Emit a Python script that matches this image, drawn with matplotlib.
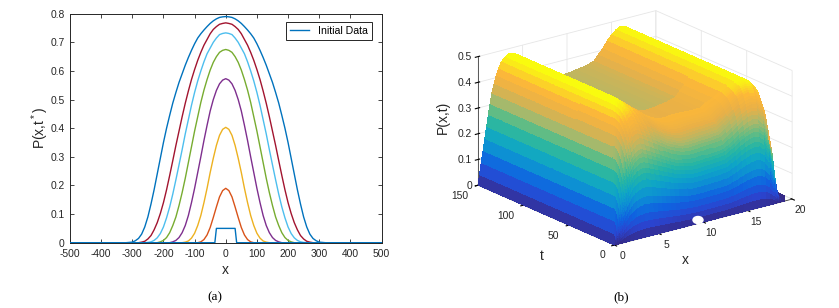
import numpy as np
import matplotlib
matplotlib.use('Agg')
import matplotlib.pyplot as plt
from matplotlib.colors import LinearSegmentedColormap
from matplotlib.patches import Ellipse
from mpl_toolkits.mplot3d import proj3d

plt.rcParams['font.family'] = ['Liberation Sans', 'DejaVu Sans']
plt.rcParams['mathtext.fontset'] = 'custom'
plt.rcParams['mathtext.rm'] = 'Liberation Sans'
plt.rcParams['axes.unicode_minus'] = False

# ---- panel (a) data: half profiles from x=0 in steps of 10, mirrored about x=0
step = 10
initial_x = [-500, -35, -30, 30, 35, 500]
initial_y = [0, 0, 0.05, 0.05, 0, 0]
curve_orange = [.19, .182, .16, .125, .088, .053, .027, .011, .003, 0]
curve_yellow = [.403, .396, .375, .34, .295, .245, .19, .14, .095, .06, .033, .016, .006, .002, 0]
curve_purple = [.573, .568, .555, .532, .50, .46, .41, .357, .30, .245, .19, .14, .095, .06, .035, .018, .008, .003, 0]
curve_green = [.675, .672, .665, .65, .63, .603, .57, .533, .49, .44, .39, .335, .28, .225, .175, .13, .09, .06, .035,
               .018, .008, .003, 0]
curve_cyan = [.733, .731, .727, .715, .70, .68, .66, .632, .60, .565, .525, .48, .43, .38, .325, .272, .22, .17, .125,
              .087, .055, .032, .017, .008, .003, .001, 0]
curve_red = [.768, .766, .763, .755, .745, .73, .71, .69, .665, .637, .605, .57, .53, .487, .44, .39, .34, .287, .235,
             .185, .14, .102, .07, .045, .025, .013, .005, .002, 0]
curve_blue = [.79, .789, .787, .782, .775, .766, .755, .743, .73, .715, .695, .672, .647, .62, .59, .56, .525, .488, .445,
              .40, .35, .295, .24, .185, .135, .09, .055, .03, .015, .007, .002, .001, 0]
x_ticks = [-500, -400, -300, -200, -100, 0, 100, 200, 300, 400, 500]
y_ticks = [0, .1, .2, .3, .4, .5, .6, .7, .8]

# ---- panel (b) data
x_grid = [0, .15, .35, .55, .75, .95, 1.15, 1.35, 1.55, 1.8, 2.05, 2.3, 2.6, 3, 3.5, 4, 4.5, 5, 5.5, 6, 6.5, 7, 7.5, 8,
          8.5, 9, 9.5, 10, 10.5, 11, 11.5, 12, 12.5, 13, 13.5, 14, 14.5, 15, 15.5, 16, 16.5, 17, 17.5, 18,
          18.25, 18.5, 18.75, 19, 19.5, 20]
profile = [0, .04, .085, .13, .175, .22, .265, .305, .345, .38, .41, .435, .455, .47, .48, .478, .465, .45, .435, .42,
           .405, .39, .375, .365, .355, .348, .345, .345, .347, .35, .352, .355, .36, .365, .385, .405, .43, .45, .465,
           .475, .47, .44, .37, .24, .12, .04, .015, .005, 0, 0]
rise_time = [0, 2, 4, 6, 8, 10.5, 12.5, 15, 17, 20, 23, 25, 29, 33, 39, 44, 46, 45, 44, 43, 42, 42, 41, 41, 41, 41, 41,
             41, 41, 40, 39, 37, 35, 33, 31, 28, 25, 22, 20, 17, 15, 12, 10, 8, 6, 5, 4, 4, 3, 2]
wall_fraction = [0, .01, .02, .03, .045, .06, .08, .10, .12, .14, .16, .18, .20, .22, .25, .28, .31, .34, .37, .40, .44,
                 .48, .52, .56, .60, .65, .70, .75, .80, .85, .90, .95, 1]
wall_height = [0, .07, .13, .19, .26, .32, .39, .45, .50, .54, .58, .62, .65, .68, .72, .755, .785, .81, .835, .855, .88,
               .90, .92, .935, .95, .965, .975, .985, .99, .995, .998, 1, 1]
plateau_t = [60, 75, 90, 105, 120, 135, 150]
wall_top_level = .88
colour_stops = ['#352a87', '#2a45d0', '#0f62e0', '#0d8ad6', '#0ea5c6', '#25b5a5', '#60bc85', '#b0b868',
                '#e8b048', '#fdb838', '#f9fb0e']
x_tick_vals = [0, 5, 10, 15, 20]
t_tick_vals = [0, 50, 100, 150]
z_tick_vals = [0, .1, .2, .3, .4, .5]
z_tick_text = ['0', '0.1', '0.2', '0.3', '0.4', '0.5']

fig = plt.figure(figsize=(8.39, 3.08), dpi=100, facecolor='white')

# ---- left panel
ax = fig.add_axes([70/839, 1-242.7/308, 311.5/839, 229/308])
ax.plot(initial_x, initial_y, color='#0072BD', lw=1.0, label='Initial Data', zorder=9)
for ys, c in [(curve_orange, '#D95319'), (curve_yellow, '#EDB120'), (curve_purple, '#7E2F8E'),
              (curve_green, '#77AC30'), (curve_cyan, '#4DBEEE'), (curve_red, '#A2142F'), (curve_blue, '#0072BD')]:
    xs = step * np.arange(len(ys))
    ax.plot(np.r_[-xs[::-1], xs[1:]], np.r_[ys[::-1], ys[1:]], color=c, lw=1.0)
ax.set_xlim(-500, 500)
ax.set_ylim(0, .8)
ax.set_xticks(x_ticks)
ax.set_yticks(y_ticks)
ax.set_yticklabels(['0', '0.1', '0.2', '0.3', '0.4', '0.5', '0.6', '0.7', '0.8'])
ax.tick_params(direction='in', top=True, right=True, length=3, width=.6, labelsize=7.4, colors='#262626', pad=3)
ax.tick_params(axis='x', pad=4.5)
ax.tick_params(axis='y', pad=4)
for s in ax.spines.values():
    s.set_linewidth(.7)
    s.set_color('#262626')
ax.set_xlabel('x', fontsize=10, color='#262626', labelpad=3)
ax.set_ylabel(r'P(x,t$^*$)', fontsize=10, color='#262626', labelpad=-.5)
leg = ax.legend(loc='upper right', bbox_to_anchor=(.9695, .964), fontsize=7.6, fancybox=False, framealpha=1,
                edgecolor='#262626', borderaxespad=0, handlelength=1.8, borderpad=.4)
leg.get_frame().set_linewidth(.7)

# ---- right panel
cmap = LinearSegmentedColormap.from_list('wall', colour_stops)
ax3 = fig.add_axes([451/839, 22/308, 360/839, 1], projection='3d')
ax3.set_proj_type('ortho')
ax3.view_init(elev=19.7, azim=-127.5)
ax3.set_box_aspect((1, 1, .61), zoom=1.087)
xg = np.array(x_grid)
pr = np.array(profile)
h = np.array(wall_height)
rows_plateau = np.outer(np.array(plateau_t, float), np.ones_like(xg))
T = np.vstack([np.outer(np.array(wall_fraction), np.array(rise_time)), rows_plateau])
P = np.vstack([np.outer(h, pr), np.tile(pr, (len(plateau_t), 1))])
X = np.tile(xg, (T.shape[0], 1))
level = pr / .475
# along the crest of the front wall the colour reaches orange even over the valley
lift = np.where((xg > 3) & (level > .5), np.maximum(wall_top_level - level, 0), 0)
V = np.vstack([np.outer(h, level) + np.outer(h ** 3, lift), np.tile(level, (len(plateau_t), 1))])
Vc = (V[:-1, :-1] + V[1:, :-1] + V[:-1, 1:] + V[1:, 1:]) / 4
ax3.plot_surface(X, T, P, facecolors=cmap(np.clip(Vc, 0, 1)), shade=False, rstride=1, cstride=1,
                 linewidth=0, antialiased=False)
ax3.set_xlim(0, 20)
ax3.set_ylim(0, 150)
ax3.set_zlim(0, .5)
ax3.set_xticks(x_tick_vals)
ax3.set_yticks(t_tick_vals)
ax3.set_zticks(z_tick_vals)
ax3.set_xticklabels([])
ax3.set_yticklabels([])
ax3.set_zticklabels([])
for a in (ax3.xaxis, ax3.yaxis, ax3.zaxis):
    a.set_pane_color((1, 1, 1, 0))
    a.pane.set_edgecolor('#d8d8d8')
    a._axinfo['grid'].update(color='#e6e6e6', linewidth=.6)
    a.line.set_color('#404040')
    a.line.set_linewidth(.6)

tick_style = dict(fontsize=7.4, color='#262626', va='center', transform=ax3.transData)
proj = ax3.get_proj()


def tick_text(x, t, z, s, ha):
    px, py, _ = proj3d.proj_transform(x, t, z, proj)
    ax3.text2D(px, py, s, ha=ha, **tick_style)


for v in x_tick_vals:
    tick_text(v, -8.8, -.029, str(v), 'center')
for v in t_tick_vals:
    tick_text(-1.07, v, -.031, str(v), 'right')
for v, s in zip(z_tick_vals, z_tick_text):
    tick_text(-.67, 150, v + .003, s, 'right')
ax3.text2D(542/839, 1-256/308, 't', transform=fig.transFigure, fontsize=10, color='#262626', ha='center', va='center')
ax3.text2D(685/839, 1-260/308, 'x', transform=fig.transFigure, fontsize=10, color='#262626', ha='center', va='center')
ax3.text2D(443/839, 1-117/308, 'P(x,t)', transform=fig.transFigure, fontsize=10, color='#262626', rotation=90,
           ha='center', va='center')
fig.add_artist(Ellipse((698/839, 1-220/308), 10/839, 7/308, color='white', transform=fig.transFigure))

fig.text(215/839, 1-297/308, '(a)', family='Liberation Serif', fontsize=9.5, ha='center', va='center')
fig.text(621/839, 1-297/308, '(b)', family='Liberation Serif', fontsize=9.5, ha='center', va='center')
fig.savefig('out.png', dpi=100)
